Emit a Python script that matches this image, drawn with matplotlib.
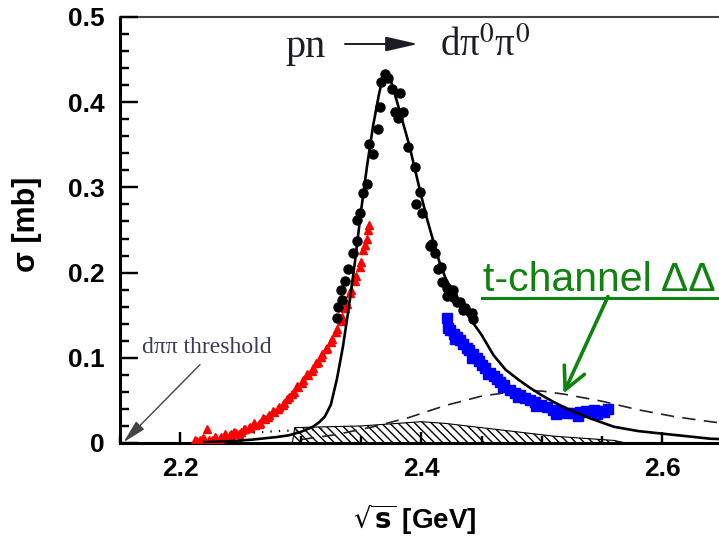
import matplotlib
matplotlib.use("Agg")
import numpy as np
import matplotlib.pyplot as plt
from matplotlib.lines import Line2D
from matplotlib.collections import LineCollection
from matplotlib.ticker import MultipleLocator

plt.rcParams['mathtext.fontset'] = 'custom'
plt.rcParams['mathtext.rm'] = 'Liberation Sans'
plt.rcParams['mathtext.bf'] = 'Liberation Sans:bold'

# ---------------- data ----------------
# WASA pn -> d pi0 pi0 (black circles)
black_x = [2.330, 2.331, 2.334, 2.333, 2.337, 2.339, 2.343, 2.347, 2.347, 2.349,
           2.352, 2.355, 2.357, 2.360, 2.364, 2.366, 2.367, 2.370, 2.372, 2.376,
           2.378, 2.381, 2.382, 2.385, 2.389, 2.395, 2.396, 2.399, 2.401, 2.407,
           2.409, 2.411, 2.414, 2.416, 2.417, 2.421, 2.421, 2.426, 2.426, 2.430,
           2.432, 2.435, 2.436, 2.442, 2.443]
black_y = [0.147, 0.160, 0.168, 0.180, 0.190, 0.204, 0.223, 0.237, 0.262, 0.270,
           0.294, 0.304, 0.351, 0.339, 0.368, 0.394, 0.424, 0.433, 0.428, 0.415,
           0.389, 0.382, 0.411, 0.388, 0.347, 0.324, 0.280, 0.295, 0.270, 0.231,
           0.233, 0.223, 0.204, 0.207, 0.189, 0.182, 0.172, 0.180, 0.171, 0.165,
           0.166, 0.156, 0.159, 0.153, 0.145]

# earlier data (red triangles)
red_x = [2.212, 2.214, 2.216, 2.219, 2.220, 2.222, 2.224, 2.226, 2.229,
         2.230, 2.233, 2.234, 2.237, 2.238, 2.241, 2.242, 2.245, 2.246, 2.249,
         2.250, 2.253, 2.254, 2.257, 2.258, 2.261, 2.262, 2.265, 2.266, 2.269,
         2.270, 2.273, 2.274, 2.277, 2.278, 2.281, 2.282, 2.285, 2.286, 2.289,
         2.290, 2.293, 2.294, 2.297, 2.298, 2.301, 2.302, 2.305, 2.306, 2.309,
         2.310, 2.313, 2.314, 2.317, 2.318, 2.321, 2.322, 2.325, 2.326, 2.329,
         2.330, 2.333, 2.334, 2.337, 2.338, 2.341, 2.342, 2.345, 2.346, 2.349,
         2.350, 2.352, 2.353, 2.355, 2.356, 2.357]
red_y = [0.004, 0.002, 0.003, 0.006, 0.005, 0.016, 0.003, 0.004, 0.007,
         0.006, 0.005, 0.007, 0.010, 0.008, 0.009, 0.010, 0.013, 0.012, 0.011,
         0.013, 0.017, 0.016, 0.018, 0.019, 0.023, 0.021, 0.022, 0.024, 0.029,
         0.028, 0.031, 0.033, 0.038, 0.036, 0.040, 0.042, 0.045, 0.047, 0.052,
         0.054, 0.058, 0.060, 0.067, 0.066, 0.071, 0.074, 0.081, 0.080, 0.084,
         0.088, 0.094, 0.095, 0.101, 0.104, 0.110, 0.112, 0.118, 0.122, 0.130,
         0.134, 0.143, 0.148, 0.158, 0.163, 0.176, 0.180, 0.190, 0.196, 0.207,
         0.213, 0.226, 0.232, 0.240, 0.250, 0.256]

# later data (blue squares)
blue_x = [2.421, 2.422, 2.424, 2.427, 2.430, 2.432, 2.435, 2.438, 2.440, 2.443,
          2.446, 2.448, 2.450, 2.453, 2.457, 2.460, 2.463, 2.465, 2.469, 2.474,
          2.478, 2.482, 2.486, 2.490, 2.494, 2.499, 2.504, 2.509, 2.515, 2.521,
          2.526, 2.532, 2.537, 2.543, 2.548, 2.552, 2.555, 2.428, 2.442, 2.455,
          2.468, 2.480, 2.495, 2.512, 2.530, 2.546]
blue_y = [0.147, 0.135, 0.133, 0.128, 0.124, 0.121, 0.116, 0.112, 0.109, 0.104,
          0.100, 0.096, 0.092, 0.088, 0.082, 0.079, 0.075, 0.072, 0.068, 0.062,
          0.059, 0.056, 0.053, 0.051, 0.048, 0.045, 0.042, 0.039, 0.037, 0.035,
          0.035, 0.036, 0.038, 0.039, 0.038, 0.036, 0.040, 0.122, 0.100, 0.081,
          0.066, 0.054, 0.043, 0.034, 0.032, 0.034]

# resonance fit (solid)
fit_x = [2.220, 2.240, 2.260, 2.280, 2.290, 2.300, 2.310, 2.315, 2.320, 2.325,
         2.330, 2.335, 2.340, 2.345, 2.350, 2.355, 2.360, 2.365, 2.368, 2.371,
         2.375, 2.380, 2.385, 2.390, 2.395, 2.400, 2.405, 2.410, 2.415, 2.420,
         2.430, 2.440, 2.450, 2.460, 2.470, 2.480, 2.490, 2.500, 2.510, 2.520,
         2.540, 2.560, 2.580, 2.600, 2.620, 2.640, 2.660, 2.700]
fit_y = [0.001, 0.002, 0.004, 0.007, 0.009, 0.013, 0.019, 0.024, 0.031, 0.045,
         0.075, 0.113, 0.160, 0.213, 0.272, 0.325, 0.372, 0.410, 0.428, 0.434,
         0.424, 0.400, 0.375, 0.350, 0.320, 0.290, 0.262, 0.237, 0.213, 0.194,
         0.167, 0.147, 0.127, 0.103, 0.086, 0.075, 0.065, 0.056, 0.048, 0.041,
         0.029, 0.019, 0.014, 0.011, 0.008, 0.005, 0.004, 0.002]

# t-channel DeltaDelta (dashed)
tch_x = [2.300, 2.330, 2.360, 2.390, 2.420, 2.450, 2.480, 2.500, 2.520, 2.550,
         2.580, 2.610, 2.640, 2.670, 2.700]
tch_y = [0.004, 0.010, 0.019, 0.030, 0.044, 0.055, 0.061, 0.061, 0.057, 0.049,
         0.039, 0.031, 0.025, 0.020, 0.016]

# dotted contribution
dot_x = [2.240, 2.260, 2.280, 2.300, 2.320]
dot_y = [0.008, 0.012, 0.014, 0.015, 0.016]

# hatched band
hat_x = [2.293, 2.295, 2.320, 2.350, 2.380, 2.400, 2.420, 2.450, 2.480, 2.510,
         2.540, 2.560, 2.570]
hat_y = [0.000, 0.018, 0.019, 0.020, 0.023, 0.025, 0.023, 0.018, 0.013, 0.008,
         0.005, 0.003, 0.000]

xticks_major = [2.2, 2.4, 2.6]
xtick_labels = ['2.2', '2.4', '2.6']
yticks_major = [0.0, 0.1, 0.2, 0.3, 0.4, 0.5]
ytick_labels = ['0', '0.1', '0.2', '0.3', '0.4', '0.5']

# ---------------- figure ----------------
W, H = 719, 537
AXW, AXH = 662.75, 426.0
XLIM = (2.15, 2.70)
YLIM = (0.0, 0.5)
TL = {'xmaj': 8, 'xmin': 5, 'ymaj': 13, 'ymin': 6.5}
green = '#0f820f'
tcol = '#1c1c28'


def make():
    fig = plt.figure(figsize=(W / 100, H / 100), dpi=100)
    ax = fig.add_axes([120 / W, 94 / H, AXW / W, AXH / H])
    ax.set_xlim(*XLIM)
    ax.set_ylim(*YLIM)

    ax.fill_between(hat_x, 0, hat_y, facecolor='white', edgecolor='black',
                    hatch='\\\\\\\\', linewidth=0.8, zorder=1)
    ax.plot(dot_x, dot_y, color='black', lw=1.6, linestyle=(0, (0.6, 3.2)), zorder=2)
    ax.plot(tch_x, tch_y, color='#222222', lw=1.2, linestyle=(0, (8, 5)), zorder=2)
    ax.plot(red_x, red_y, linestyle='none', marker='^', ms=6, color='#ff0000',
            mec='#ff0000', zorder=3)
    ax.plot(blue_x, blue_y, linestyle='none', marker='s', ms=7, color='#0000ff',
            mec='#0000ff', zorder=3)
    ax.plot(black_x, black_y, linestyle='none', marker='o', ms=6.5, color='black', zorder=4)
    ax.plot(fit_x, fit_y, color='black', lw=1.9, zorder=5)

    for s in ['left', 'bottom']:
        ax.spines[s].set_linewidth(2.2)
        ax.spines[s].set_color('black')
    ax.spines['top'].set_linewidth(1.5)
    ax.spines['top'].set_color('#444444')
    ax.spines['right'].set_visible(False)

    ax.set_xticks(xticks_major)
    ax.set_xticklabels(xtick_labels)
    ax.xaxis.set_minor_locator(MultipleLocator(0.05))
    ax.set_yticks(yticks_major)
    ax.set_yticklabels(ytick_labels)
    ax.yaxis.set_minor_locator(MultipleLocator(0.02))

    ax.tick_params(axis='both', which='both', direction='in', colors='black', width=1.6)
    ax.tick_params(axis='x', which='both', top=False, bottom=True, pad=10)
    ax.tick_params(axis='y', which='both', right=False, left=True, pad=11)
    ax.tick_params(axis='x', which='major', length=TL['xmaj'])
    ax.tick_params(axis='x', which='minor', length=TL['xmin'])
    ax.tick_params(axis='y', which='major', length=TL['ymaj'])
    ax.tick_params(axis='y', which='minor', length=TL['ymin'])
    for lab in ax.get_xticklabels() + ax.get_yticklabels():
        lab.set_fontfamily('Liberation Sans')
        lab.set_fontweight('bold')
        lab.set_fontsize(19)

    # tick marks also as segments placed by the axes' blended transforms
    # (same geometry as the native inward ticks, so they coincide)
    pt2px = 100 / 72.0
    specs = [(ax.get_xticks(), TL['xmaj'], 'x'),
             (ax.xaxis.get_minorticklocs(), TL['xmin'], 'x'),
             (ax.get_yticks(), TL['ymaj'], 'y'),
             (ax.yaxis.get_minorticklocs(), TL['ymin'], 'y')]
    for locs, length, which in specs:
        if which == 'x':
            f = length * pt2px / AXH
            segs = [[(v, 0), (v, f)] for v in locs if XLIM[0] <= v <= XLIM[1]]
            tr = ax.get_xaxis_transform()
        else:
            f = length * pt2px / AXW
            segs = [[(0, v), (f, v)] for v in locs if YLIM[0] <= v <= YLIM[1]]
            tr = ax.get_yaxis_transform()
        lc = LineCollection(segs, colors='black', linewidths=1.6, transform=tr,
                            clip_on=False, zorder=2.6)
        lc.set_capstyle('butt')
        ax.add_collection(lc, autolim=False)

    # axis labels
    fig.text(27 / W, 1 - 224 / H, 'σ [mb]', rotation=90, ha='center', va='center',
             fontsize=22, fontweight='bold', family='Liberation Sans')
    fig.text(415 / W, 1 - 520 / H, r'$\sqrt{\mathbf{s}}$ [GeV]', ha='center', va='center',
             fontsize=20, fontweight='bold', family='Liberation Sans',
             math_fontfamily='dejavusans')

    # reaction title
    fig.text(285 / W, 1 - 57 / H, 'pn', family='Liberation Serif', fontsize=29,
             color=tcol, va='baseline', ha='left')
    fig.text(440 / W, 1 - 56 / H, 'dπ$^0$π$^0$', family='Liberation Serif', fontsize=28,
             color=tcol, va='baseline', ha='left', math_fontfamily='stix')
    ax.annotate('', xy=(418, H - 44), xytext=(345, H - 44), xycoords='figure pixels',
                textcoords='figure pixels',
                arrowprops=dict(arrowstyle='-|>,head_length=1.1,head_width=0.25',
                                mutation_scale=18, color=tcol, lw=1.4,
                                shrinkA=0, shrinkB=0))

    # threshold annotation
    ax.text(2.1683, 0.106, 'dππ threshold', family='Liberation Serif', fontsize=17,
            color='#3a3a58', va='baseline', ha='left')
    ax.annotate('', xy=(2.153, 0.001), xytext=(2.2164, 0.092),
                arrowprops=dict(arrowstyle='-|>,head_length=0.9,head_width=0.22',
                                mutation_scale=16, color='#444444', lw=1.0,
                                shrinkA=0, shrinkB=0))

    # t-channel label
    ax.text(2.451, 0.178, 't-channel ΔΔ', family='Liberation Sans', fontsize=29.5,
            color=green, va='baseline', ha='left', clip_on=False)
    fig.add_artist(Line2D([482 / W, 1.05], [1 - 298 / H, 1 - 298 / H], color=green,
                          lw=2.2, transform=fig.transFigure))
    ax.annotate('', xy=(2.518, 0.058), xytext=(2.555, 0.172),
                arrowprops=dict(arrowstyle='->,head_length=0.8,head_width=0.4',
                                mutation_scale=20, color=green, lw=2.6,
                                shrinkA=0, shrinkB=0))
    return fig


fig = make()
fig.canvas.draw()
_ = np.asarray(fig.canvas.buffer_rgba())
fig.savefig('out.png', dpi=100)
